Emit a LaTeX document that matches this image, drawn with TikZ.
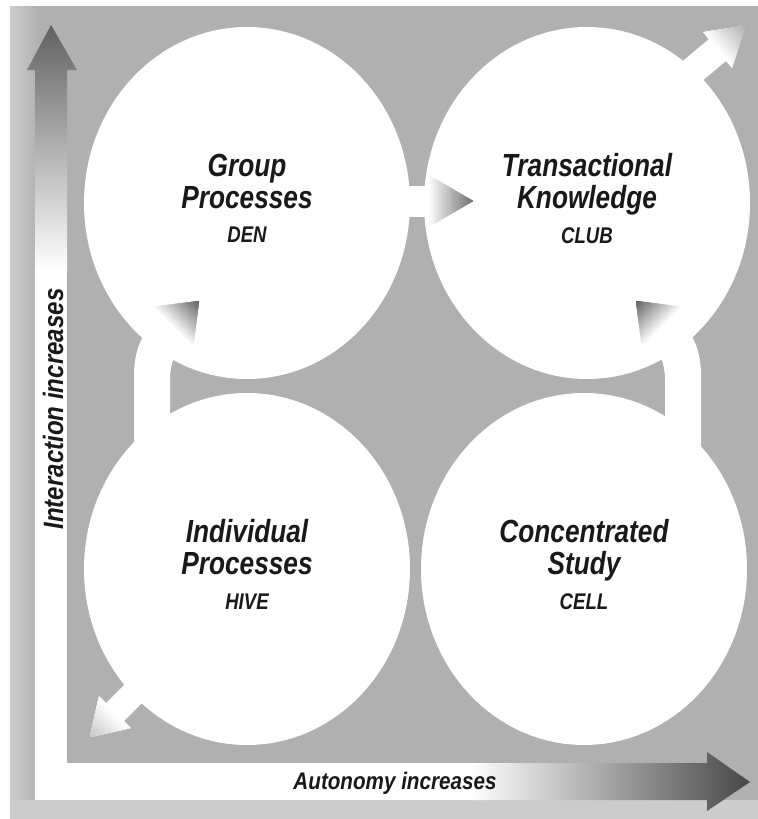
\documentclass[tikz,border=0pt]{standalone}
\usepackage{fontspec}
\usepackage{xcolor}
\usepackage{tikz}
\usetikzlibrary{shapes.geometric,positioning,calc}

\newfontfamily\titlefont{Liberation Sans}[FakeStretch=0.82]
\newfontfamily\tagfont{Liberation Sans}[FakeStretch=0.86]
\definecolor{bggray}{gray}{0.69}
\definecolor{bglight}{gray}{0.80}
\newcommand{\abbr}[1]{{\titlefont\bfseries\itshape\fontsize{17}{18}\selectfont #1}}
% arrow head shaded from its base (white) to its tip
\newcommand{\shadedhead}[4]{%
  \foreach \k in {0,...,15}{
    \pgfmathsetmacro\s{1-\k/16}
    \pgfmathtruncatemacro\c{#4*\k/15}
    \fill[black!\c] (#1) -- ($(#1)!\s!(#2)$) -- ($(#1)!\s!(#3)$) -- cycle;
  }}

\tikzset{
  zone/.style={ellipse, fill=white, inner sep=0pt, minimum width=244.5pt, minimum height=264pt,
    align=center, text=black!90, text depth=7pt, font=\titlefont\bfseries\itshape\fontsize{24}{24}\selectfont},
  axislabel/.style={font=\tagfont\bfseries\itshape, text=black!90, inner sep=0pt, anchor=base},
}

\begin{document}
\begin{tikzpicture}[x=0.75pt,y=0.75pt,yscale=-1]
\useasboundingbox (0,0) rectangle (758,819);

%Background
\fill[white] (0,0) rectangle (758,819);
\fill[bggray] (10,6) rectangle (758,819);
\shade[left color=bglight, right color=bggray] (10,6) rectangle (40,819);
\fill[bglight] (10,800) rectangle (758,819);

%Axes
\fill[white] (35,60) rectangle (67,800);
\fill[white] (35,763) rectangle (710,800);
\shade[top color=black!62, bottom color=white] (35,270) -- (35,70) -- (27,70) -- (51,25) -- (77,70) -- (67,70) -- (67,270) -- cycle;
\shade[left color=white, right color=black!72] (470,763) -- (707,763) -- (707,752) -- (750,782) -- (707,811) -- (707,800) -- (470,800) -- cycle;

% Text Node
\node[axislabel, rotate=90, font=\tagfont\bfseries\itshape\fontsize{21}{23}\selectfont] (interaction) at (63,409) {Interaction increases};
% Text Node
\node[axislabel, font=\tagfont\bfseries\itshape\fontsize{18}{20}\selectfont] (autonomy) at (395,789) {Autonomy increases};

%Circles
\node[zone] (den) at (247,203) {Group\\Processes\\[2pt]\abbr{DEN}};
\node[zone] (club) at (587,203) {Transactional\\Knowledge\\[2pt]\abbr{CLUB}};
\node[zone] (hive) at (247,569) {Individual\\Processes\\[2pt]\abbr{HIVE}};
\node[zone] (cell) at (584,569) {Concentrated\\Study\\[2pt]\abbr{CELL}};

%Arrow den -> club
\fill[white] (392,186) rectangle (428,217);
\shadedhead{473,201}{427,174}{427,228}{55}

%Arrow hive -> den
\fill[white] (134,450) -- (134,375) .. controls (134,345) and (146,329) .. (159,315) -- (151,307) -- (199,301) -- (193,349) -- (185,341) .. controls (176,350) and (170,362) .. (170,380) -- (170,450) -- cycle;
\shadedhead{199,301}{151,307}{193,349}{60}

%Arrow cell -> club
\fill[white] (701,450) -- (701,375) .. controls (701,345) and (689,329) .. (676,315) -- (684,307) -- (636,301) -- (642,349) -- (650,341) .. controls (659,350) and (665,362) .. (665,380) -- (665,450) -- cycle;
\shadedhead{636,301}{684,307}{642,349}{60}

%Arrow out of club
\fill[white] (678,65) -- (709,39) -- (703,32) -- (745,26) -- (732,68) -- (726,61) -- (695,87) -- cycle;
\shadedhead{745,26}{703,32}{732,68}{30}

%Arrow out of hive
\fill[white] (134,675) -- (106,703) -- (99,696) -- (90,737) -- (131,728) -- (124,721) -- (152,693) -- cycle;
\shadedhead{90,737}{99,696}{131,728}{22}

\end{tikzpicture}
\end{document}
